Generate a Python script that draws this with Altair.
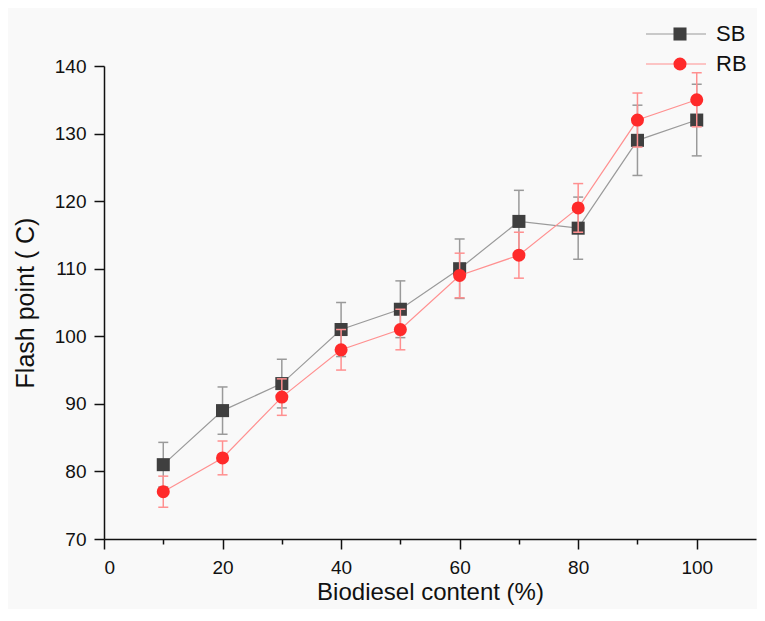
import altair as alt
import pandas as pd

content = [10, 20, 30, 40, 50, 60, 70, 80, 90, 100]
sb_flash = [81, 89, 93, 101, 104, 110, 117, 116, 129, 132]
sb_err = [3.3, 3.5, 3.6, 4.0, 4.2, 4.4, 4.6, 4.6, 5.2, 5.3]
rb_flash = [77, 82, 91, 98, 101, 109, 112, 119, 132, 135]
rb_err = [2.3, 2.5, 2.7, 3.0, 3.0, 3.3, 3.4, 3.6, 4.0, 4.0]
series_names = ["SB", "RB"]
marker_keys = ["SB ", "RB "]
x_ticks = [0, 10, 20, 30, 40, 50, 60, 70, 80, 90, 100]
y_ticks = [70, 75, 80, 85, 90, 95, 100, 105, 110, 115, 120, 125, 130, 135, 140]

line_colors = ["#9a9a9a", "#ff9090"]
point_colors = ["#3f3f3f", "#ff2a2a"]
shapes = ["square", "circle"]

rows = []
for name, key, vals, errs in [("SB", "SB ", sb_flash, sb_err), ("RB", "RB ", rb_flash, rb_err)]:
    for x, v, e in zip(content, vals, errs):
        rows.append({"content": x, "flash": v, "lo": v - e, "hi": v + e,
                     "series": name, "marker": key})
df = pd.DataFrame(rows)

FONT = "Liberation Sans"

xs = alt.Scale(domain=[0, 110], nice=False, zero=False)
ys = alt.Scale(domain=[70, 140], nice=False, zero=False)

x_enc = alt.X("content:Q", scale=xs, title="Biodiesel content (%)",
              axis=alt.Axis(values=x_ticks, labelExpr="datum.value % 20 == 0 ? datum.label : ''",
                            tickSize={"condition": {"test": "datum.value % 20 === 0", "value": 10}, "value": 5},
                            grid=False, labelPadding=9, titlePadding=3, titleFontSize=24))
y_enc = alt.Y("flash:Q", scale=ys, title="Flash point ( C)",
              axis=alt.Axis(values=y_ticks, labelExpr="datum.value % 10 == 0 ? datum.label : ''",
                            tickSize={"condition": {"test": "datum.value % 10 === 0", "value": 10}, "value": 5},
                            grid=False, labelPadding=8, titlePadding=16))

stroke_leg = alt.Legend(title=None, orient="none", legendX=561, legendY=-43,
                        symbolType="M-3,0H3", symbolSize=400, symbolStrokeWidth=1.2,
                        labelFontSize=22, labelFont=FONT, labelColor="#111",
                        labelOffset=29, rowPadding=8)
fill_leg = alt.Legend(title=None, orient="none", legendX=565, legendY=-43,
                      symbolSize=170, symbolStrokeWidth=0,
                      labelFontSize=22, labelFont=FONT, labelExpr="''",
                      labelOffset=8, rowPadding=8)

stroke_enc = alt.Stroke("series:N", scale=alt.Scale(domain=series_names, range=line_colors),
                        legend=stroke_leg)
fill_enc = alt.Fill("marker:N", scale=alt.Scale(domain=marker_keys, range=point_colors),
                    legend=fill_leg)
shape_enc = alt.Shape("marker:N", scale=alt.Scale(domain=marker_keys, range=shapes),
                      legend=fill_leg)

layers = []
for name in series_names:
    base = alt.Chart(df).transform_filter(alt.datum.series == name)
    line = base.mark_line(strokeWidth=1.2).encode(x=x_enc, y=y_enc, stroke=stroke_enc)
    err = base.mark_rule(strokeWidth=1.5).encode(
        x="content:Q", y=alt.Y("lo:Q"), y2="hi:Q", stroke=stroke_enc)
    cap_lo = base.mark_rule(strokeWidth=1.5, xOffset=-5, x2Offset=5).encode(
        x="content:Q", x2="content:Q", y="lo:Q", stroke=stroke_enc)
    cap_hi = base.mark_rule(strokeWidth=1.5, xOffset=-5, x2Offset=5).encode(
        x="content:Q", x2="content:Q", y="hi:Q", stroke=stroke_enc)
    pts = base.mark_point(filled=True, opacity=1, size=170, strokeWidth=0).encode(
        x=x_enc, y=y_enc, fill=fill_enc, shape=shape_enc)
    layers += [line, err, cap_lo, cap_hi, pts]

chart = alt.layer(*layers).properties(
    width=652, height=473,
    autosize=alt.AutoSizeParams(type="none"),
    padding={"left": 96, "top": 58, "right": 1, "bottom": 70},
    background="#f9f9f9",
).configure_view(stroke=None).configure_axis(
    domainColor="#111", domainWidth=1.5, tickColor="#111", tickWidth=1.5,
    labelFont=FONT, labelFontSize=19, labelColor="#111",
    titleFont=FONT, titleFontSize=25, titleColor="#111", titleFontWeight="normal",
)

chart.save("out.html", embed_options={"renderer": "svg", "actions": False})
